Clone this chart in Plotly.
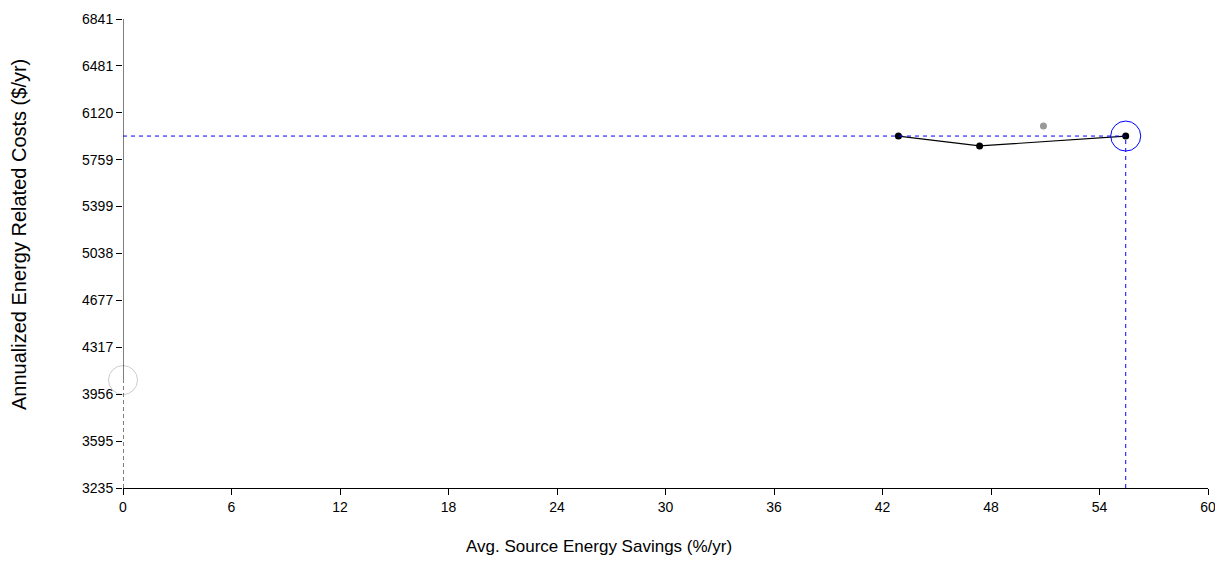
import plotly.graph_objects as go

# Data
path_x = [42.88, 47.37, 55.45]
path_y = [5941, 5865, 5941]
other_x = [50.9]
other_y = [6018]
baseline_x = [0]
baseline_y = [4065]
selected_x = [55.45]
selected_y = [5941]

x_tick_vals = [0, 6, 12, 18, 24, 30, 36, 42, 48, 54, 60]
y_tick_labels = ["3235", "3595", "3956", "4317", "4677", "5038", "5399", "5759", "6120", "6481", "6841"]
y_min, y_max = 3235, 6841
x_min, x_max = 0, 60

FONT = "Liberation Sans, Arial, sans-serif"

# page body has an 8px margin; plot area target: x 123..1208, y 19..488
PAGE_OFF = 8
L, R, T, B = 123 - PAGE_OFF, 15, 19 - PAGE_OFF, 74
W, H = 1223 - PAGE_OFF, 562 - PAGE_OFF
PW, PH = W - L - R, H - T - B
X0, Y1 = 123, 488

fig = go.Figure()

fig.add_trace(go.Scatter(x=path_x, y=path_y, mode="lines+markers",
                         line=dict(color="#000000", width=1.2),
                         marker=dict(color="#000000", size=7),
                         hoverinfo="skip", showlegend=False))
fig.add_trace(go.Scatter(x=other_x, y=other_y, mode="markers",
                         marker=dict(color="#999999", size=7),
                         hoverinfo="skip", showlegend=False))
fig.add_trace(go.Scatter(x=baseline_x, y=baseline_y, mode="markers",
                         marker=dict(color="rgba(0,0,0,0)", size=29,
                                     line=dict(color="#cccccc", width=1)),
                         hoverinfo="skip", showlegend=False, cliponaxis=False))
fig.add_trace(go.Scatter(x=selected_x, y=selected_y, mode="markers",
                         marker=dict(color="rgba(0,0,0,0)", size=30,
                                     line=dict(color="#0000ff", width=1)),
                         hoverinfo="skip", showlegend=False, cliponaxis=False))

shapes = []
shapes.append(dict(type="line", xref="x", yref="y", x0=x_min, x1=x_min,
                   y0=baseline_y[0], y1=y_max, line=dict(color="#000000", width=1)))
shapes.append(dict(type="line", xref="x", yref="y", x0=x_min, x1=x_min,
                   y0=y_min, y1=baseline_y[0], line=dict(color="#000000", width=1, dash="4px,3px")))
shapes.append(dict(type="line", xref="x", yref="y", x0=x_min, x1=selected_x[0],
                   y0=selected_y[0], y1=selected_y[0], line=dict(color="#0000ff", width=1, dash="4px,4px")))
shapes.append(dict(type="line", xref="x", yref="y", x0=selected_x[0], x1=selected_x[0],
                   y0=y_min, y1=selected_y[0], line=dict(color="#0000ff", width=1, dash="4px,4px")))

fig.update_layout(
    width=W, height=H,
    margin=dict(l=L, r=R, t=T, b=B, autoexpand=False),
    paper_bgcolor="white", plot_bgcolor="white",
    font=dict(family=FONT, size=14, color="#000000"),
    shapes=shapes,
    xaxis=dict(range=[x_min, x_max], tickvals=x_tick_vals, ticks="outside", ticklen=6,
               tickcolor="#000000", showline=True, linecolor="#000000", linewidth=1,
               showgrid=False, zeroline=False, fixedrange=True, automargin=False,
               tickfont=dict(family=FONT, size=14)),
    yaxis=dict(range=[y_min, y_max], tickvals=[float(v) for v in y_tick_labels],
               ticktext=y_tick_labels, ticks="outside", ticklen=6, tickcolor="#000000",
               showline=False, showgrid=False, zeroline=False, fixedrange=True, automargin=False,
               tickfont=dict(family=FONT, size=14)),
    annotations=[
        dict(text="Avg. Source Energy Savings (%/yr)", xref="paper", yref="paper",
             x=(599 - X0) / PW, y=-(546 - Y1) / PH,
             xanchor="center", yanchor="middle", showarrow=False,
             font=dict(family=FONT, size=17)),
        dict(text="Annualized Energy Related Costs ($/yr)", xref="paper", yref="paper",
             x=-(X0 - 19) / PW, y=(Y1 - 235) / PH,
             xanchor="center", yanchor="middle", textangle=-90, showarrow=False,
             font=dict(family=FONT, size=20)),
    ],
)

fig.write_html("out.html", config={"displayModeBar": False})
